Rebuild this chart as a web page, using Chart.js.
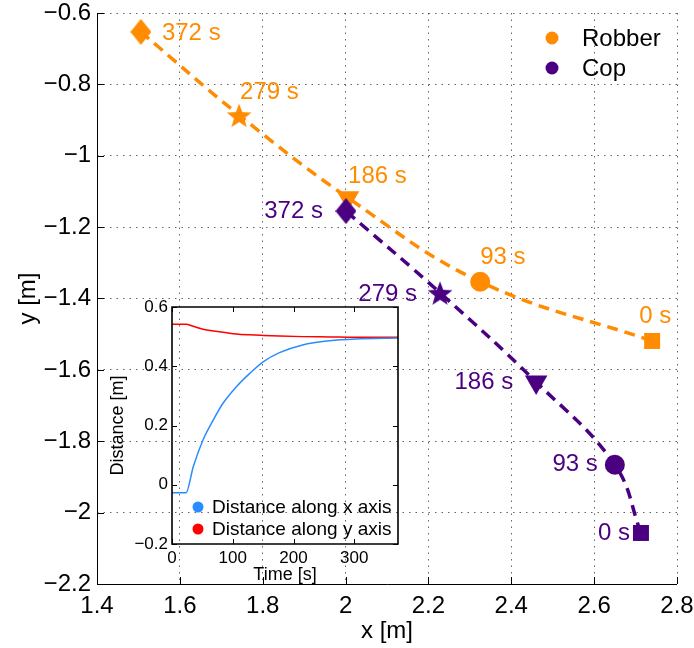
<!DOCTYPE html>
<html>
<head>
<meta charset="utf-8">
<script src="https://cdn.jsdelivr.net/npm/chart.js@4.4.0/dist/chart.umd.min.js"></script>
<style>
  html, body { margin: 0; padding: 0; background: #fff; }
  #wrap { position: relative; width: 694px; height: 648px; }
  #mainChart { position: absolute; left: 0; top: 0; }
  #insetChart { position: absolute; left: 100px; top: 297px; }
</style>
</head>
<body>
<div id="wrap">
  <canvas id="mainChart" width="694" height="648"></canvas>
  <canvas id="insetChart" width="306" height="291"></canvas>
</div>
<script>
// Trajectories (points ordered 0 s -> 372 s)
const timeLabels = ['0 s', '93 s', '186 s', '279 s', '372 s'];
const robberX = [2.740, 2.325, 2.006, 1.743, 1.506];
const robberY = [-1.519, -1.353, -1.118, -0.886, -0.653];
const copX = [2.713, 2.650, 2.460, 2.228, 2.001];
const copY = [-2.057, -1.866, -1.634, -1.384, -1.155];

// Inset: distance between cop and robber over time
const insetTime = [0, 23, 35, 51, 68, 84, 106, 128, 150, 177, 215, 259, 302, 372];
const distX = [-0.027, -0.027, 0.061, 0.151, 0.219, 0.275, 0.331, 0.376, 0.415, 0.446, 0.472, 0.486, 0.492, 0.495];
const distY = [0.542, 0.542, 0.535, 0.525, 0.519, 0.515, 0.509, 0.506, 0.504, 0.502, 0.500, 0.499, 0.498, 0.498];

const ORANGE = '#FF8C00';
const PURPLE = '#4B0082';
const BLUE = '#2b8cff';
const RED = '#ff0000';
const FONT = '"Liberation Sans", Arial, Helvetica, sans-serif';
Chart.defaults.font.family = FONT;
Chart.defaults.color = '#000';

// label offsets from marker centre: [dx, dy, align]
const robberLabelPos = [[-13, -25, 'left'], [0, -24, 'left'], [0, -21, 'left'], [1, -23, 'left'], [21, 1, 'left']];
const copLabelPos = [[-11, 0, 'right'], [-17, 0, 'right'], [-23, 0, 'right'], [-23, 2, 'right'], [-23, 0, 'right']];

const makeStar = (color, r) => {
    const s = Math.ceil(r * 2) + 2;
    const c = document.createElement('canvas');
    c.width = c.height = s;
    const g = c.getContext('2d');
    g.fillStyle = color;
    g.beginPath();
    for (let i = 0; i < 10; i++) {
        const a = -Math.PI / 2 + i * Math.PI / 5;
        const rr = i % 2 ? r * 0.42 : r;
        g.lineTo(s / 2 + rr * Math.cos(a), s / 2 + 1.5 + rr * Math.sin(a));
    }
    g.closePath();
    g.fill();
    return c;
};

const makeDiamond = (color, w, h) => {
    const c = document.createElement('canvas');
    c.width = w; c.height = h;
    const g = c.getContext('2d');
    g.fillStyle = color;
    g.beginPath();
    g.moveTo(w / 2, 0); g.lineTo(w, h / 2); g.lineTo(w / 2, h); g.lineTo(0, h / 2);
    g.closePath();
    g.fill();
    return c;
};

const fmt = v => String(Math.round(v * 100) / 100).replace('-', '\u2212');
const toPoints = (xs, ys) => xs.map((x, i) => ({ x: x, y: ys[i] }));

const noPad = s => { s.paddingLeft = s.paddingRight = s.paddingTop = s.paddingBottom = 0; };

// axis lines + inward ticks (full box for the inset, left/bottom only for the main plot)
const framePlugin = {
    id: 'frame',
    afterDraw(chart, args, opts) {
        const { ctx, chartArea: a, scales } = chart;
        const len = opts.tick || 6;
        ctx.save();
        ctx.strokeStyle = '#000';
        ctx.lineWidth = opts.width || 1;
        ctx.beginPath();
        if (opts.box) {
            ctx.rect(a.left, a.top, a.right - a.left, a.bottom - a.top);
        } else {
            ctx.moveTo(a.left + 0.5, a.top);
            ctx.lineTo(a.left + 0.5, a.bottom + 0.5);
            ctx.lineTo(a.right, a.bottom + 0.5);
        }
        ctx.stroke();
        ctx.lineWidth = 1;
        ctx.beginPath();
        scales.x.ticks.forEach(t => {
            const p = Math.round(scales.x.getPixelForValue(t.value)) + 0.5;
            ctx.moveTo(p, a.bottom); ctx.lineTo(p, a.bottom - len);
            if (opts.box) { ctx.moveTo(p, a.top); ctx.lineTo(p, a.top + len); }
        });
        scales.y.ticks.forEach(t => {
            const p = Math.round(scales.y.getPixelForValue(t.value)) + 0.5;
            ctx.moveTo(a.left, p); ctx.lineTo(a.left + len, p);
            if (opts.box) { ctx.moveTo(a.right, p); ctx.lineTo(a.right - len, p); }
        });
        ctx.stroke();
        ctx.restore();
    }
};

// small legend drawn inside the axes
const boxLegendPlugin = {
    id: 'boxLegend',
    afterDraw(chart, args, opts) {
        const { ctx, chartArea: a } = chart;
        ctx.save();
        ctx.font = opts.size + 'px ' + FONT;
        ctx.textBaseline = 'middle';
        ctx.textAlign = 'left';
        opts.items.forEach((it, i) => {
            const x0 = opts.fromRight ? a.right - opts.x : a.left + opts.x;
            const y0 = opts.fromBottom ? a.bottom - opts.y + i * opts.gap : a.top + opts.y + i * opts.gap;
            ctx.fillStyle = it.color;
            ctx.beginPath();
            ctx.arc(x0, y0, opts.r, 0, Math.PI * 2);
            ctx.fill();
            ctx.fillStyle = '#000';
            ctx.fillText(it.text, x0 + opts.textGap, y0 + 1);
        });
        ctx.restore();
    }
};

// time labels beside markers
const timeLabelPlugin = {
    id: 'timeLabels',
    afterDatasetsDraw(chart) {
        const { ctx } = chart;
        ctx.save();
        ctx.font = '24px ' + FONT;
        ctx.textBaseline = 'middle';
        chart.data.datasets.forEach((ds, di) => {
            const meta = chart.getDatasetMeta(di);
            meta.data.forEach((pt, i) => {
                const [dx, dy, align] = ds.labelPos[i];
                ctx.fillStyle = ds.borderColor;
                ctx.textAlign = align;
                ctx.fillText(timeLabels[i], pt.x + dx, pt.y + dy);
            });
        });
        ctx.restore();
    }
};

const gridStyle = { color: 'rgba(0,0,0,0.6)', lineWidth: 1, drawTicks: false };
const borderStyle = { display: false, dash: [1.5, 5] };

const initMainChart = () => {
    const ctx = document.getElementById('mainChart').getContext('2d');
    const markerStyles = (color) => ['rect', 'circle', 'triangle', makeStar(color, 13), makeDiamond(color, 21, 26)];
    const common = {
        showLine: true,
        borderWidth: 3.5,
        borderDash: [11, 7],
        tension: 0.4,
        pointRadius: [11.3, 10, 13, 12, 12],
        pointRotation: [0, 0, 180, 0, 0],
        pointBorderWidth: 0
    };
    return new Chart(ctx, {
        type: 'scatter',
        data: {
            datasets: [
                Object.assign({
                    label: 'Cop', data: toPoints(copX, copY), order: 0,
                    borderColor: PURPLE, backgroundColor: PURPLE, pointBackgroundColor: PURPLE,
                    pointStyle: markerStyles(PURPLE), labelPos: copLabelPos
                }, common),
                Object.assign({
                    label: 'Robber', data: toPoints(robberX, robberY), order: 1,
                    borderColor: ORANGE, backgroundColor: ORANGE, pointBackgroundColor: ORANGE,
                    pointStyle: markerStyles(ORANGE), labelPos: robberLabelPos
                }, common)
            ]
        },
        options: {
            responsive: false,
            devicePixelRatio: 1,
            animation: false,
            events: [],
            layout: { padding: { top: 13, right: 17, left: 0, bottom: 0 } },
            plugins: {
                legend: { display: false },
                tooltip: { enabled: false },
                frame: { width: 1, tick: 7, box: false },
                boxLegend: {
                    items: [{ text: 'Robber', color: ORANGE }, { text: 'Cop', color: PURPLE }],
                    fromRight: true, x: 125, y: 25, gap: 30, r: 6.5, textGap: 30, size: 24
                }
            },
            scales: {
                x: {
                    type: 'linear', min: 1.4, max: 2.8,
                    ticks: { stepSize: 0.2, font: { size: 24 }, padding: 8, maxRotation: 0, autoSkip: false, callback: v => fmt(v) },
                    grid: gridStyle, border: borderStyle,
                    title: { display: true, text: 'x [m]', font: { size: 24 }, padding: { top: 0, bottom: 2 } },
                    afterFit: s => { s.height = 64; noPad(s); }
                },
                y: {
                    type: 'linear', min: -2.2, max: -0.6,
                    ticks: { stepSize: 0.2, font: { size: 24 }, padding: 6, autoSkip: false, callback: v => fmt(v) },
                    grid: gridStyle, border: borderStyle,
                    title: { display: true, text: 'y [m]', font: { size: 24 }, padding: { top: 14, bottom: 0 } },
                    afterFit: s => { s.width = 97; noPad(s); }
                }
            }
        },
        plugins: [framePlugin, boxLegendPlugin, timeLabelPlugin]
    });
};

// Inset: transparent axes, no own grid (main grid shows through)
const initInsetChart = () => {
    const ctx = document.getElementById('insetChart').getContext('2d');
    return new Chart(ctx, {
        type: 'scatter',
        data: {
            datasets: [
                {
                    label: 'Distance along x axis', data: toPoints(insetTime, distX),
                    showLine: true, borderColor: BLUE, borderWidth: 1.5, pointRadius: 0,
                    cubicInterpolationMode: 'monotone'
                },
                {
                    label: 'Distance along y axis', data: toPoints(insetTime, distY),
                    showLine: true, borderColor: RED, borderWidth: 1.5, pointRadius: 0,
                    cubicInterpolationMode: 'monotone'
                }
            ]
        },
        options: {
            responsive: false,
            devicePixelRatio: 1,
            animation: false,
            events: [],
            layout: { padding: { top: 10, right: 8, left: 0, bottom: 0 } },
            plugins: {
                legend: { display: false },
                tooltip: { enabled: false },
                frame: { width: 1.6, tick: 5, box: true },
                boxLegend: {
                    items: [{ text: 'Distance along x axis', color: BLUE }, { text: 'Distance along y axis', color: RED }],
                    fromBottom: true, x: 26, y: 37, gap: 22, r: 5.5, textGap: 14, size: 19
                }
            },
            scales: {
                x: {
                    type: 'linear', min: 0, max: 372,
                    ticks: { stepSize: 100, font: { size: 17 }, padding: 4, maxRotation: 0, autoSkip: false, callback: v => fmt(v) },
                    afterBuildTicks: s => { s.ticks = s.ticks.filter(t => t.value % 100 === 0); },
                    grid: { display: false, drawTicks: false }, border: { display: false },
                    title: { display: true, text: 'Time [s]', font: { size: 18 }, padding: { top: 0, bottom: 2 } },
                    afterFit: s => { s.height = 44; noPad(s); }
                },
                y: {
                    type: 'linear', min: -0.2, max: 0.6,
                    ticks: { stepSize: 0.2, font: { size: 17 }, padding: 4, autoSkip: false, callback: v => fmt(v) },
                    grid: { display: false, drawTicks: false }, border: { display: false },
                    title: { display: true, text: 'Distance [m]', font: { size: 18 }, padding: { top: 7, bottom: 0 } },
                    afterFit: s => { s.width = 72; noPad(s); }
                }
            }
        },
        plugins: [framePlugin, boxLegendPlugin]
    });
};

document.addEventListener('DOMContentLoaded', () => {
    initMainChart();
    initInsetChart();
});
</script>
</body>
</html>
